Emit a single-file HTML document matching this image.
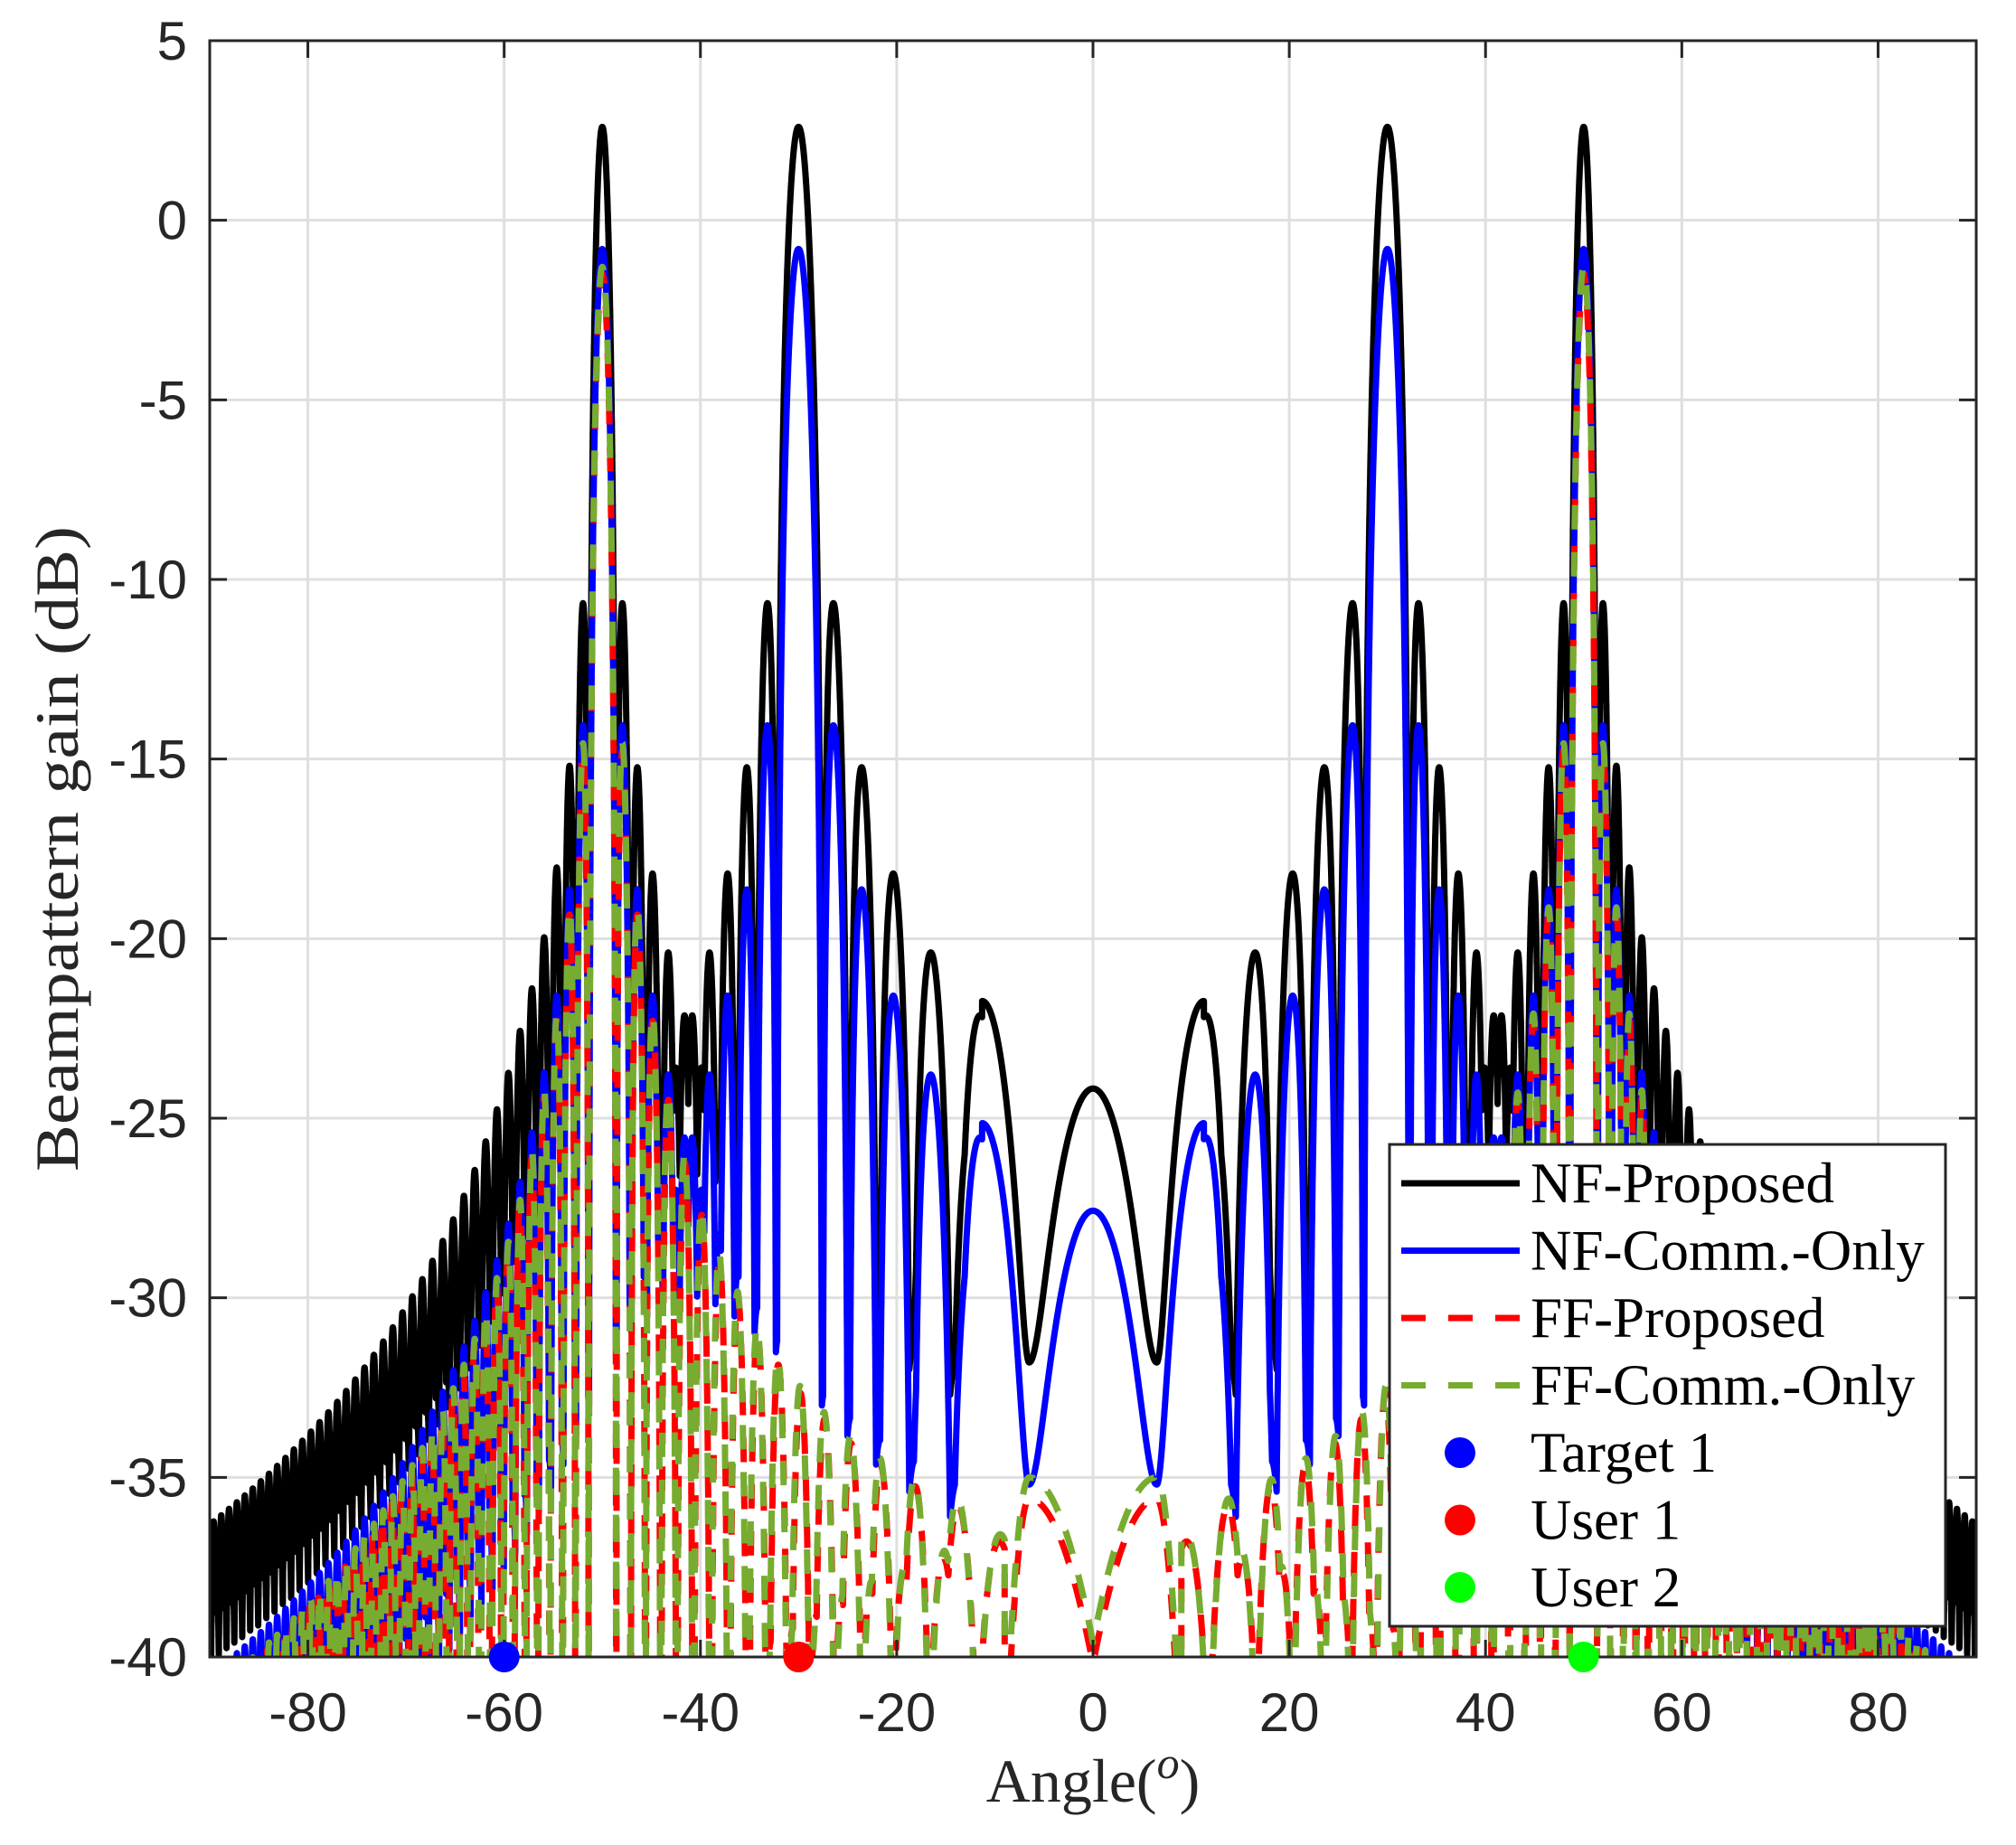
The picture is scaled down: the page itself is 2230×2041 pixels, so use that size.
<!DOCTYPE html>
<html><head><meta charset="utf-8"><style>
html,body{margin:0;padding:0;background:#fff;}
svg{display:block;}
</style></head><body>
<svg id="s" width="2230" height="2041" viewBox="0 0 2230 2041" xmlns="http://www.w3.org/2000/svg">
<defs><clipPath id="cp"><rect x="232" y="45" width="1954" height="1788"/></clipPath></defs>
<rect width="2230" height="2041" fill="#fff"/>
<g id="grid" stroke="#dfdfdf" stroke-width="3"></g>
<g id="curves" clip-path="url(#cp)" fill="none" stroke-width="7" stroke-linejoin="round"></g>
<g id="axes" stroke="#262626" stroke-width="3" fill="none"></g>
<g id="ticklabels" font-family="Liberation Sans, sans-serif" font-size="60" fill="#262626"></g>
<circle cx="557.7" cy="1833" r="17" fill="#0000ff"/>
<circle cx="883.4" cy="1833" r="17" fill="#ff0000"/>
<circle cx="1751.6" cy="1833" r="17" fill="#00ff00"/>
<text x="1209" y="1993" font-family="Liberation Serif, serif" font-size="68" fill="#262626" text-anchor="middle">Angle(<tspan font-style="italic" font-size="50" dy="-26">o</tspan><tspan dy="26">)</tspan></text>
<text transform="translate(86,939) rotate(-90)" font-family="Liberation Serif, serif" font-size="68" fill="#262626" text-anchor="middle" textLength="714" lengthAdjust="spacingAndGlyphs">Beampattern gain (dB)</text>
<g id="legend">
<rect x="1537" y="1266" width="615" height="533" fill="#fff" stroke="#262626" stroke-width="3"/>
<line x1="1550" y1="1309" x2="1681" y2="1309" stroke="#000" stroke-width="7"/>
<line x1="1550" y1="1383.5" x2="1681" y2="1383.5" stroke="#0000ff" stroke-width="7"/>
<line x1="1550" y1="1458" x2="1681" y2="1458" stroke="#ff0000" stroke-width="7" stroke-dasharray="27 25"/>
<line x1="1550" y1="1532.5" x2="1681" y2="1532.5" stroke="#77ac30" stroke-width="7" stroke-dasharray="27 25"/>
<circle cx="1615" cy="1607" r="17" fill="#0000ff"/>
<circle cx="1615" cy="1681.5" r="17" fill="#ff0000"/>
<circle cx="1615" cy="1756" r="17" fill="#00ff00"/>
<g font-family="Liberation Serif, serif" font-size="63" fill="#000">
<text x="1693" y="1330">NF-Proposed</text>
<text x="1693" y="1404.5">NF-Comm.-Only</text>
<text x="1693" y="1479">FF-Proposed</text>
<text x="1693" y="1553.5">FF-Comm.-Only</text>
<text x="1693" y="1628">Target 1</text>
<text x="1693" y="1702.5">User 1</text>
<text x="1693" y="1777">User 2</text>
</g>
</g>
</svg>
<script>
(function(){
var NS="http://www.w3.org/2000/svg";
var L=232,R=2186,T=45,B=1833;
function X(a){return L+(a+90)/180*(R-L);}
function Y(d){return T+(5-d)/45*(B-T);}
function el(p,n,at,txt){var e=document.createElementNS(NS,n);for(var k in at)e.setAttribute(k,at[k]);if(txt!=null)e.textContent=txt;p.appendChild(e);return e;}
var grid=document.getElementById('grid'),axes=document.getElementById('axes'),tl=document.getElementById('ticklabels');
for(var a=-80;a<=80;a+=20){var x=X(a);el(grid,'line',{x1:x,y1:T,x2:x,y2:B});
 el(axes,'line',{x1:x,y1:B,x2:x,y2:B-19});el(axes,'line',{x1:x,y1:T,x2:x,y2:T+19});
 el(tl,'text',{x:x,y:1915,'text-anchor':'middle'},String(a));}
for(var d=-40;d<=5;d+=5){var y=Y(d);if(d>-40&&d<5)el(grid,'line',{x1:L,y1:y,x2:R,y2:y});
 el(axes,'line',{x1:L,y1:y,x2:L+19,y2:y});el(axes,'line',{x1:R,y1:y,x2:R-19,y2:y});
 el(tl,'text',{x:207,y:y+21,'text-anchor':'end'},String(d));}
el(axes,'rect',{x:L,y:T,width:R-L,height:B-T});
function g(t){return t*Math.abs(t);}
function sinc(x){if(Math.abs(x)<1e-9)return 1;return Math.abs(Math.sin(Math.PI*x)/(Math.PI*x));}
function db(v){return 20*Math.log10(Math.max(v,1e-5));}
function lin(d){return Math.pow(10,d/20);}
var bs4=[-50,-30,30,50],bs2=[-50,50];
function best(t,bs,c){var m=0,xb=1e9;for(var i=0;i<bs.length;i++){var x=(g(t)-g(bs[i]))/c;var v=sinc(x);if(v>m){m=v;}if(Math.abs(x)<Math.abs(xb))xb=x;}return {v:m,x:xb};}
function boost(t){var a=Math.abs(t);return a>55?(a-55)*0.065:0;}
var J=11.3;
var mJ=db(best(J,bs4,140).v);
var fl=lin(-34.4);
function blackBase(t,fill){
  var a=Math.abs(t);
  if(a<J){
    var v;
    if(a<=6.5){v=lin(-27.6)*Math.cos(Math.PI*a/13);}
    else{v=lin(mJ)*Math.sin(Math.PI*(a-6.5)/(2*(J-6.5)));}
    return db(Math.sqrt(v*v+fl*fl));
  }
  var r=best(t,bs4,140);var v=r.v;
  if(fill&&a>52){var env=1/(Math.PI*Math.abs(r.x)+1e-9);var w=Math.min(1,(a-52)/6);v=Math.sqrt(v*v+(0.45*w*env)*(0.45*w*env));}
  return db(v)+boost(t);
}
function ffC(a){
  if(a<6.5)return -35-4.6*Math.pow((6.5-a)/6.5,2);
  return -35-8*Math.pow((a-6.5)/2.5,2);
}
function path(f){var s=[],step=0.005;for(var t=-90;t<=90.0001;t+=step){var d=f(t);if(d<-46)d=-46;s.push((s.length?'L':'M')+X(t).toFixed(1)+' '+Y(d).toFixed(1));}return s.join('');}
var cv=document.getElementById('curves');
el(cv,'path',{d:path(function(t){return blackBase(t,true)+2.6;}),stroke:'#000'});
el(cv,'path',{d:path(function(t){return blackBase(t,false)-0.8;}),stroke:'#0000ff'});
el(cv,'path',{d:path(function(t){var a=Math.abs(t);if(a<9)return ffC(a)-0.6;return db(best(t,bs2,140*(1+0.006*a/90)).v)+boost(t)-1.5;}),stroke:'#ff0000','stroke-dasharray':'27 25'});
el(cv,'path',{d:path(function(t){var a=Math.abs(t);if(a<9)return ffC(a);return db(best(t,bs2,140).v)+boost(t)-1.3;}),stroke:'#77ac30','stroke-dasharray':'27 25'});
})();
</script>
</body></html>
